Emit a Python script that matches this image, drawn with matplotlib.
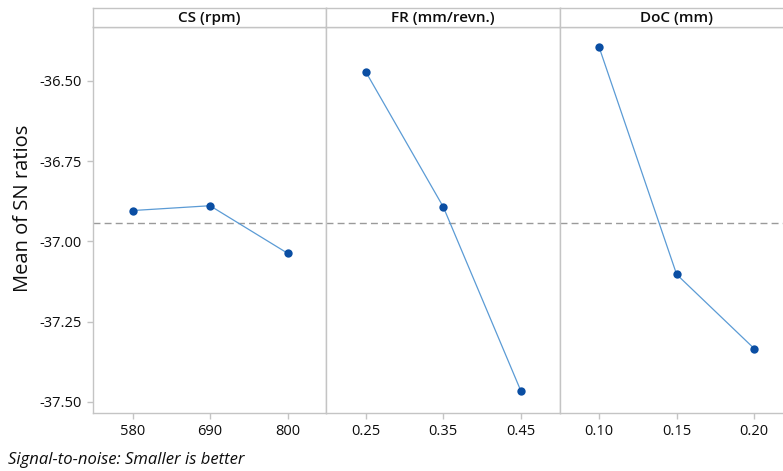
import matplotlib
matplotlib.use("Agg")
import matplotlib.pyplot as plt

# main effects for SN ratios
factors = ["CS (rpm)", "FR (mm/revn.)", "DoC (mm)"]
levels = [["580", "690", "800"], ["0.25", "0.35", "0.45"], ["0.10", "0.15", "0.20"]]
sn_means = [
    [-36.904, -36.889, -37.037],
    [-36.472, -36.893, -37.466],
    [-36.395, -37.103, -37.334],
]
overall_mean = -36.944
y_ticks = [-36.50, -36.75, -37.00, -37.25, -37.50]

plt.rcParams["font.family"] = ["Open Sans", "DejaVu Sans"]

W, H = 783, 471
fig = plt.figure(figsize=(W / 100, H / 100), dpi=100)

grid_col = "#c4c4c4"
line_col = "#5b9bd5"
dot_col = "#0a4ea3"
txt_col = "#0d0d0d"

left_px, panel_w = 93, 233.3
top_px, strip_h, bottom_px = 8, 19, 412.7

for i, (name, labs, vals) in enumerate(zip(factors, levels, sn_means)):
    x0 = (left_px + i * panel_w) / W
    ax = fig.add_axes([x0, 1 - bottom_px / H, panel_w / W, (bottom_px - top_px - strip_h) / H])
    xs = list(range(1, len(vals) + 1))
    ax.plot(xs, vals, color=line_col, lw=0.9, zorder=2)
    ax.scatter(xs, vals, s=36, color=dot_col, zorder=3, linewidths=0)
    ax.axhline(overall_mean, color="#9a9a9a", lw=1.0, ls=(0, (5, 3)), zorder=1)
    ax.set_xlim(0.49, 3.5)
    ax.set_ylim(-37.534, -36.332)
    ax.set_xticks(xs)
    ax.set_xticklabels(labs)
    ax.set_yticks(y_ticks)
    ax.set_yticklabels([f"{t:.2f}" for t in y_ticks])
    for sp in ax.spines.values():
        sp.set_color(grid_col)
        sp.set_linewidth(1.0)
    ax.tick_params(axis="both", colors=grid_col, labelcolor=txt_col,
                   labelsize=10.5, length=4, width=1.0, pad=4)
    if i > 0:
        ax.tick_params(axis="y", left=False, labelleft=False)

    # title strip
    sx = fig.add_axes([x0, 1 - (top_px + strip_h) / H, panel_w / W, strip_h / H])
    sx.set_xticks([])
    sx.set_yticks([])
    for sp in sx.spines.values():
        sp.set_color(grid_col)
        sp.set_linewidth(1.0)
    sx.text(0.5, 0.45, name, ha="center", va="center", fontsize=11,
            fontweight="semibold", color=txt_col, transform=sx.transAxes)

fig.text(23 / W, 1 - 208 / H, "Mean of SN ratios", fontsize=14.5, rotation=90,
         color=txt_col, ha="center", va="center")
fig.text(8 / W, 1 - 460 / H, "Signal-to-noise: Smaller is better", fontsize=12,
         style="italic", color=txt_col, va="center", ha="left")

fig.savefig("out.png", dpi=100)
